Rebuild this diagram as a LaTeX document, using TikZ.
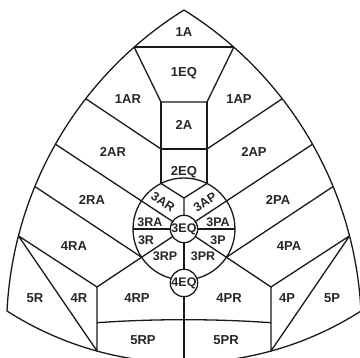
\documentclass[tikz,border=0pt]{standalone}
\usepackage{fontspec}
\setmainfont{Liberation Sans}
\usetikzlibrary{calc}
\begin{document}
\begin{tikzpicture}[x=1pt,y=1pt,line width=1.3pt,line join=round,
  lbl/.style={font=\fontsize{13}{13}\selectfont\bfseries,inner sep=0pt,text=black!85},
  sml/.style={font=\fontsize{12.5}{12.5}\selectfont\bfseries,inner sep=0pt,text=black!85},
  ln/.style={draw=black!90},
  eq/.style={draw=black!90,fill=white,circle,minimum size=26pt,inner sep=0pt}]
\useasboundingbox (0,0) rectangle (360,358);
\clip (0,0) rectangle (360,358);
% centres of the outer arcs
\coordinate (A) at (184,348);
\coordinate (C1) at (383.6,28.1);
\coordinate (C2) at (-15.6,28.1);
\coordinate (C3) at (184,324);
% points on the outer arcs
\coordinate (L1) at ($(C1)+(131.41:377.1pt)$);
\coordinate (R1) at ($(C2)+(48.59:377.1pt)$);
\coordinate (L2) at ($(C1)+(142.19:377.1pt)$);
\coordinate (R2) at ($(C2)+(37.81:377.1pt)$);
\coordinate (L3) at ($(C1)+(150.50:377.1pt)$);
\coordinate (R3) at ($(C2)+(29.50:377.1pt)$);
\coordinate (L4) at ($(C1)+(157.65:377.1pt)$);
\coordinate (R4) at ($(C2)+(22.35:377.1pt)$);
\coordinate (L5) at ($(C1)+(165.56:377.1pt)$);
\coordinate (R5) at ($(C2)+(14.44:377.1pt)$);
\coordinate (BL) at ($(C3)+(254.65:328.7pt)$);
\coordinate (BR) at ($(C3)+(285.35:328.7pt)$);
\coordinate (BM) at (184,-10);
% inner points
\coordinate (T1L) at (161,256);
\coordinate (T1R) at (207,256);
\coordinate (T2L) at (161,209);
\coordinate (T2R) at (207,209);
\coordinate (O) at (184,129);
\coordinate (VL) at (161,174.5);
\coordinate (VR) at (207,174.5);
\coordinate (V) at (184,160);
\coordinate (HL) at (133,129);
\coordinate (HR) at (235,129);
\coordinate (QL) at ($(O)+(213.69:51pt)$);
\coordinate (QR) at ($(O)+(-33.69:51pt)$);
\coordinate (KL) at (97,71);
\coordinate (KR) at (271,71);
\coordinate (ML) at (97,35.3);
\coordinate (MR) at (271,35.3);
% inner lines
\draw[ln] (L1) -- (R1);
\draw[ln] (L1) -- (T1L) -- (T1R) -- (R1);
\draw[ln] (T1L) -- (VL) (T1R) -- (VR);
\draw[ln] (T2L) -- (T2R);
\draw[ln] (L2) -- (T2L) (R2) -- (T2R);
\draw[ln] (L3) -- (O) -- (R3);
\draw[ln] (VL) -- (V) -- (VR) (V) -- (O);
\draw[ln] (HL) -- (HR);
\draw[ln] (L4) -- (QL) (R4) -- (QR);
\draw[ln] (KL) -- (O) -- (KR);
\draw[ln] (O) -- (BM);
\draw[ln] (L5) -- (KL) -- (BL) -- (L5);
\draw[ln] (R5) -- (KR) -- (BR) -- (R5);
\draw[ln] (ML) .. controls (155,39.3) and (213,39.3) .. (MR);
\draw[ln] (O) circle[radius=51pt];
% outline
\draw[ln] (A) arc[start angle=121.96,end angle=177.13,radius=377.1pt]
  arc[start angle=237.42,end angle=302.58,radius=328.7pt]
  arc[start angle=2.87,end angle=58.04,radius=377.1pt] -- cycle;
% small circles
\node[eq,sml] (eq3) at (O) {3EQ};
\node[eq,sml] (eq4) at (184,75) {4EQ};
% labels
\node[lbl] (n1A) at (184,326) {1A};
\node[lbl] (n1EQ) at (184,285) {1EQ};
\node[lbl] (n1AR) at (128,259) {1AR};
\node[lbl] (n1AP) at (239,259) {1AP};
\node[lbl] (n2A) at (184,233) {2A};
\node[lbl] (n2AR) at (113,206) {2AR};
\node[lbl] (n2AP) at (254,206) {2AP};
\node[lbl] (n2EQ) at (184,186) {2EQ};
\node[lbl] (n2RA) at (92,158) {2RA};
\node[lbl] (n2PA) at (278,158) {2PA};
\node[lbl] (n4RA) at (74,112) {4RA};
\node[lbl] (n4PA) at (289,112) {4PA};
\node[lbl] (n5R) at (35,60) {5R};
\node[lbl] (n4R) at (79,60) {4R};
\node[lbl] (n4RP) at (137,60) {4RP};
\node[lbl] (n4PR) at (229,60) {4PR};
\node[lbl] (n4P) at (287,60) {4P};
\node[lbl] (n5P) at (332,60) {5P};
\node[lbl] (n5RP) at (143,18) {5RP};
\node[lbl] (n5PR) at (226,18) {5PR};
\node[sml,rotate=-33] (n3AR) at (163,156) {3AR};
\node[sml,rotate=33] (n3AP) at (205,156) {3AP};
\node[sml] (n3RA) at (150,136) {3RA};
\node[sml] (n3PA) at (218,136) {3PA};
\node[sml] (n3R) at (146,118) {3R};
\node[sml] (n3P) at (218,118) {3P};
\node[sml] (n3RP) at (165,102) {3RP};
\node[sml] (n3PR) at (203,102) {3PR};
\end{tikzpicture}
\end{document}
